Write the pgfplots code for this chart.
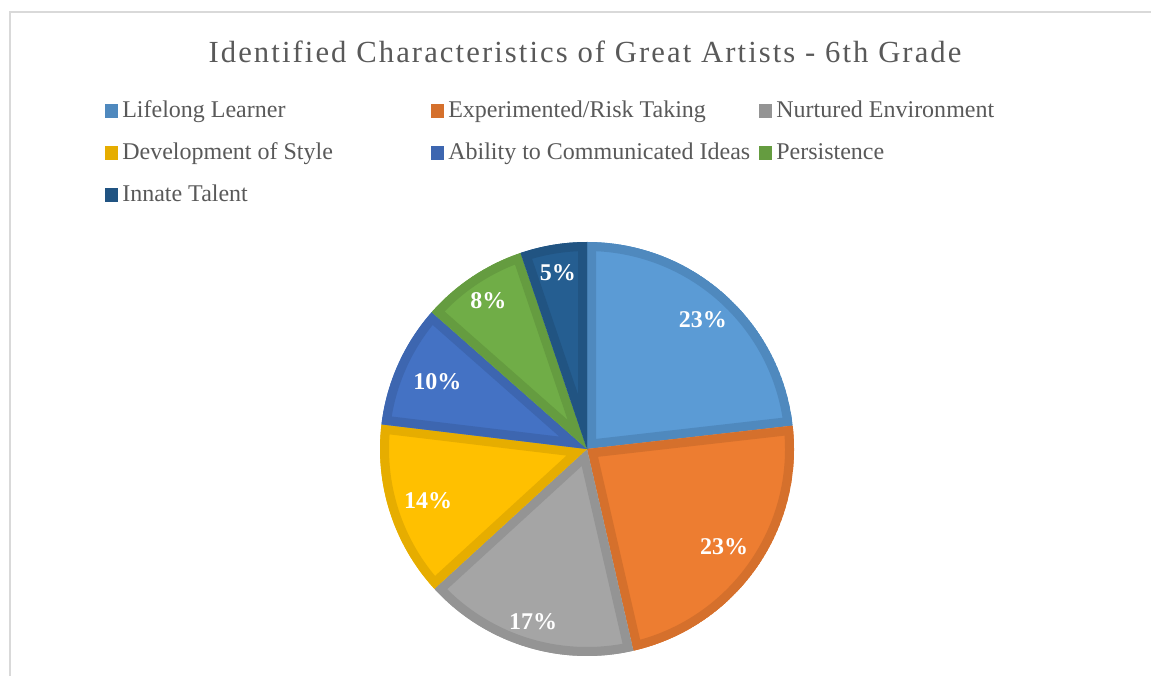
\documentclass[border=0pt]{standalone}
\usepackage{fontspec}
\setmainfont{Liberation Serif}
\newfontfamily\titlefont[LetterSpace=6.8]{Liberation Serif}
\usepackage{pgfplots}
\usepackage{pgfplotstable}
\pgfplotsset{compat=1.18}

\definecolor{txtgray}{HTML}{595959}
\definecolor{framegray}{HTML}{D9D9D9}
% slice fill colours
\definecolor{pf0}{HTML}{5B9BD5}
\definecolor{pf1}{HTML}{ED7D31}
\definecolor{pf2}{HTML}{A5A5A5}
\definecolor{pf3}{HTML}{FFC000}
\definecolor{pf4}{HTML}{4472C4}
\definecolor{pf5}{HTML}{70AD47}
\definecolor{pf6}{HTML}{255E91}
% slice border colours
\definecolor{pb0}{HTML}{4F89BE}
\definecolor{pb1}{HTML}{D5702C}
\definecolor{pb2}{HTML}{949494}
\definecolor{pb3}{HTML}{E6AD00}
\definecolor{pb4}{HTML}{3D66B0}
\definecolor{pb5}{HTML}{659C40}
\definecolor{pb6}{HTML}{215482}

\pgfplotstableread[col sep=comma]{
name,value,label,lr
Lifelong Learner,23.2,23,174
Experimented/Risk Taking,23.2,23,168
Nurtured Environment,16.8,17,181
Development of Style,13.7,14,167
Ability to Communicated Ideas,9.6,10,164
Persistence,8.3,8,178
Innate Talent,5.2,5,179
}\piedata

% cumulative angles
\def\cum{0}
\pgfplotsforeachungrouped \i in {0,...,6}{%
  \pgfplotstablegetelem{\i}{value}\of\piedata
  \let\v\pgfplotsretval
  \pgfmathsetmacro\sa{90-3.6*\cum}%
  \pgfmathsetmacro\newcum{\cum+\v}%
  \pgfmathsetmacro\ea{90-3.6*\newcum}%
  \pgfmathsetmacro\ma{(\sa+\ea)/2}%
  \expandafter\xdef\csname sa\i\endcsname{\sa}%
  \expandafter\xdef\csname ea\i\endcsname{\ea}%
  \expandafter\xdef\csname ma\i\endcsname{\ma}%
  \global\let\cum\newcum
}

\def\R{207}
\def\Rpt{155.25pt}

\begin{document}
\begin{tikzpicture}[x=0.75pt,y=0.75pt]
\useasboundingbox (0,0) rectangle (1151,675);
% chart frame (extends beyond page to the right and bottom)
\draw[overlay,framegray,line width=1.1pt] (10,-20) -- (10,663) -- (1180,663);

% title
\node[anchor=base,inner sep=0pt,text=txtgray,font=\titlefont\fontsize{23pt}{27pt}\selectfont]
  at (585,675-63) {Identified Characteristics of Great Artists - 6th Grade};

\begin{axis}[at={(587,226)},anchor=center,x=0.75pt,y=0.75pt,
  xmin=-210,xmax=210,ymin=-210,ymax=210,hide axis,clip=false]
\pgfplotsextra{%
  \pgfplotsforeachungrouped \i in {0,...,6}{%
    \edef\A{\csname sa\i\endcsname}%
    \edef\B{\csname ea\i\endcsname}%
    \begin{scope}
      \clip (axis cs:0,0) -- (axis cs:{\R*cos(\A)},{\R*sin(\A)})
        arc[start angle=\A,end angle=\B,radius=\Rpt] -- cycle;
      \fill[pf\i] (axis cs:0,0) -- (axis cs:{\R*cos(\A)},{\R*sin(\A)})
        arc[start angle=\A,end angle=\B,radius=\Rpt] -- cycle;
      \draw[pb\i,line width=13.5pt] (axis cs:0,0) -- (axis cs:{\R*cos(\A)},{\R*sin(\A)})
        arc[start angle=\A,end angle=\B,radius=\Rpt] -- cycle;
    \end{scope}
  }%
  \pgfplotsforeachungrouped \i in {0,...,6}{%
    \edef\M{\csname ma\i\endcsname}%
    \pgfplotstablegetelem{\i}{lr}\of\piedata \let\LR\pgfplotsretval
    \pgfplotstablegetelem{\i}{label}\of\piedata \let\LB\pgfplotsretval
    \node[text=white,font=\bfseries\fontsize{18pt}{20pt}\selectfont,inner sep=0pt,text depth=0pt]
      at (axis cs:{\LR*cos(\M)},{\LR*sin(\M)}) {\LB\%};
  }%
}
\end{axis}

% legend
\foreach \i/\cx/\by in {0/105/118,1/431/118,2/759/118,3/105/160,4/431/160,5/759/160,6/105/202}{
  \pgfplotstablegetelem{\i}{name}\of\piedata
  \fill[pb\i] (\cx,675-\by) rectangle (\cx+12.7,675-\by+13.5);
  \node[anchor=base west,inner sep=0pt,text=txtgray,font=\fontsize{18pt}{21pt}\selectfont]
    at (\cx+17,675-\by) {\pgfplotsretval};
}
\end{tikzpicture}
\end{document}
